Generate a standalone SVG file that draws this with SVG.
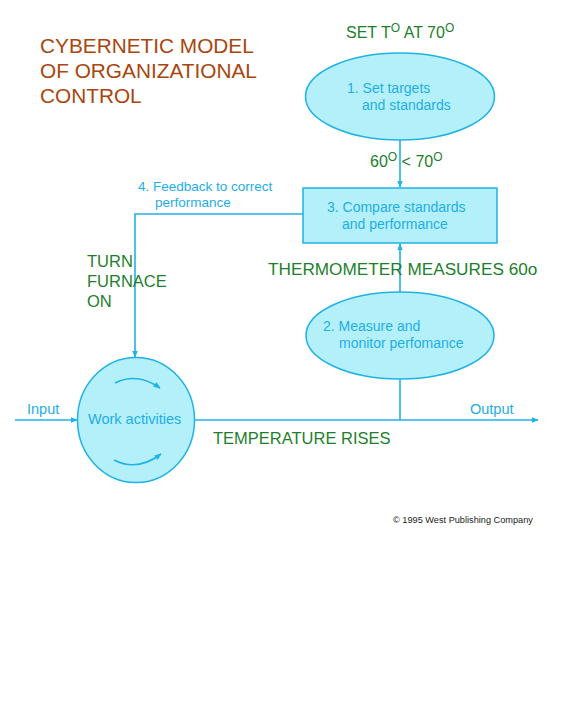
<svg xmlns="http://www.w3.org/2000/svg" width="569" height="703" viewBox="0 0 569 703">
<style>
.node{fill:#b4f0fa;stroke:#1fb2e6;stroke-width:1.5}
.nt{font-family:"Liberation Sans",Arial,sans-serif;font-size:14px;fill:#1eaee6}
.edge{fill:none;stroke:#1fb2e6;stroke-width:1.6}
.green{font-family:"Liberation Sans",Arial,sans-serif;font-size:16.5px;fill:#1d7f2c}
.title{font-family:"Liberation Sans",Arial,sans-serif;font-size:20.8px;fill:#a8460e}
</style>
<defs>
<marker id="ah" viewBox="0 0 10 10" refX="9" refY="5" markerWidth="7" markerHeight="7" orient="auto" markerUnits="userSpaceOnUse">
<path d="M0,1 L10,5 L0,9 z" fill="#1fb2e6"/>
</marker>
</defs>
<rect width="569" height="703" fill="#ffffff"/>
<g id="title">
<text class="title" x="40" y="53">CYBERNETIC MODEL</text>
<text class="title" x="40" y="78">OF ORGANIZATIONAL</text>
<text class="title" x="40" y="103">CONTROL</text>
</g>
<g id="connectors">
<line class="edge" x1="400" y1="140" x2="400" y2="187" marker-end="url(#ah)"/>
<line class="edge" x1="400" y1="292" x2="400" y2="244" marker-end="url(#ah)"/>
<polyline class="edge" points="303,214 135,214 135,357" marker-end="url(#ah)"/>
<line class="edge" x1="400" y1="379" x2="400" y2="420"/>
<line class="edge" x1="194" y1="420" x2="538" y2="420" marker-end="url(#ah)"/>
<line class="edge" x1="15" y1="420" x2="77" y2="420" marker-end="url(#ah)"/>
</g>
<g id="node1">
<ellipse class="node" cx="400" cy="96.5" rx="94.5" ry="43.5"/>
<text class="nt" x="347" y="93">1. Set targets<tspan x="362" dy="16.5">and standards</tspan></text>
</g>
<g id="node3">
<rect class="node" x="303" y="188" width="194" height="55"/>
<text class="nt" x="327" y="212">3. Compare standards<tspan x="342" dy="16.5">and performance</tspan></text>
</g>
<g id="node2">
<ellipse class="node" cx="400" cy="335.5" rx="94" ry="43.5"/>
<text class="nt" x="323" y="331">2. Measure and<tspan x="339" dy="16.5">monitor perfomance</tspan></text>
</g>
<g id="work">
<ellipse class="node" cx="136" cy="420" rx="58.5" ry="62.5"/>
<text class="nt" x="88" y="424" style="font-size:14.5px">Work activities</text>
<path class="edge" d="M115,383 Q137,372 160,388" marker-end="url(#ah)"/>
<path class="edge" d="M114,460 Q137,472 161,454" marker-end="url(#ah)"/>
</g>
<g id="labels">
<text class="nt" x="27" y="414" style="font-size:14.5px">Input</text>
<text class="nt" x="470" y="414" style="font-size:14.5px">Output</text>
<text class="nt" x="138" y="190.5" style="font-size:13.5px">4. Feedback to correct<tspan x="155" dy="16">performance</tspan></text>
<text class="green" x="346" y="38" style="font-size:16px">SET T<tspan font-size="12" dy="-6">O</tspan><tspan dy="6"> AT 70</tspan><tspan font-size="12" dy="-6">O</tspan></text>
<text class="green" x="370" y="167" style="font-size:16px">60<tspan font-size="12" dy="-6">O</tspan><tspan dy="6"> &lt; 70</tspan><tspan font-size="12" dy="-6">O</tspan></text>
<text class="green" x="268" y="275" style="font-size:17.2px">THERMOMETER MEASURES 60o</text>
<text class="green" x="87" y="267">TURN</text>
<text class="green" x="87" y="287">FURNACE</text>
<text class="green" x="87" y="307">ON</text>
<text class="green" x="213" y="444">TEMPERATURE RISES</text>
<text x="393" y="523" style="font-family:'Liberation Sans',Arial,sans-serif;font-size:9.2px;fill:#222">© 1995 West Publishing Company</text>
</g>
</svg>
